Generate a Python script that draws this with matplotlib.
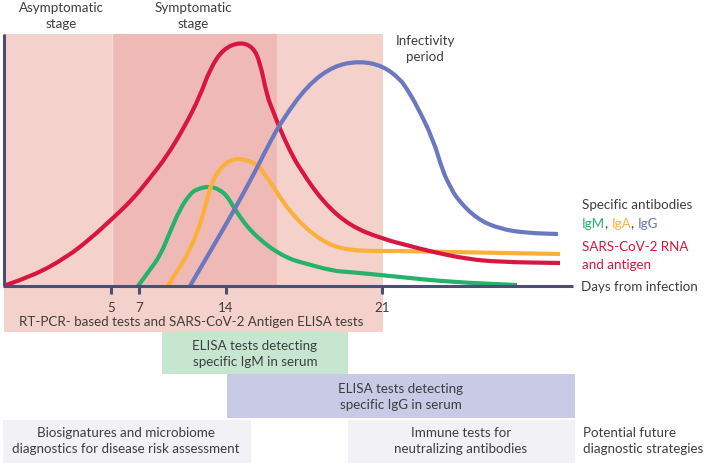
import matplotlib
matplotlib.use("Agg")
import matplotlib.pyplot as plt
from matplotlib.patches import Rectangle, PathPatch
from matplotlib.path import Path

plt.rcParams['font.family'] = ['Lato', 'DejaVu Sans']

# ---- data (schematic coordinates: x = position along time axis, py = pixel row of the curve) ----
red_x = [6, 33, 67, 90, 112, 133, 150, 167, 185, 200, 210, 223, 240, 253, 260, 267, 273, 280, 290, 300, 323, 350, 383, 410, 433, 467, 500, 560]
red_py = [286, 277, 258, 240, 220, 200, 179, 157, 127, 97, 70, 50, 43, 48, 63, 97, 112, 130, 152, 170, 203, 227, 240, 247, 253, 260, 263, 264]

blue_x = [190, 217, 237, 250, 260, 270, 283, 307, 333, 360, 383, 400, 407, 417, 433, 443, 450, 457, 477, 500, 527, 558]
blue_py = [287, 241, 206, 182, 163, 143, 120, 87, 67, 62, 67, 80, 90, 107, 140, 173, 187, 200, 220, 230, 234, 235]

orange_x = [168, 177, 187, 200, 207, 213, 223, 233, 243, 257, 263, 273, 283, 295, 307, 320, 333, 350, 370, 400, 450, 560]
orange_py = [287, 272, 257, 227, 200, 180, 166, 160, 160, 165, 173, 187, 203, 218, 230, 240, 247, 251, 252, 252, 253, 255]

green_x = [138, 149, 160, 170, 180, 190, 197, 210, 220, 227, 233, 240, 250, 263, 275, 290, 300, 333, 350, 400, 450, 517]
green_py = [287, 272, 257, 233, 210, 195, 190, 187, 191, 197, 207, 218, 231, 243, 252, 260, 263, 272, 273, 278, 283, 286]

tick_pos = [111, 139, 226, 382]
tick_labels = ["5", "7", "14", "21"]

AXIS_PY = 287
def lvl(py):
    return [AXIS_PY - v for v in py]

TXT = '#3d3d3d'
RED = '#d7173f'
BLUE = '#6b77bf'
ORANGE = '#fbb03b'
GREEN = '#26b26a'
AX = '#4b4f72'

fig = plt.figure(figsize=(7.09, 4.64), dpi=100)
ax = fig.add_axes([0, 0, 1, 1])
ax.set_xlim(0, 709)
ax.set_ylim(AXIS_PY - 464, AXIS_PY)
ax.axis('off')

def rect(x0, x1, py0, py1, color, z=0):
    ax.add_patch(Rectangle((x0, AXIS_PY - py1), x1 - x0, py1 - py0, facecolor=color, edgecolor='none', zorder=z))

# background stages
rect(4, 383, 35, 333, '#f4d1cb', 0)
rect(112, 277, 35, 287, '#efbab6', 1)
ax.plot([112, 112], [0, AXIS_PY - 35], color='#f6dcd8', lw=1, zorder=1.5)

# lower boxes
rect(162, 348, 333, 375, '#c6e6d0', 0)
rect(227, 575, 375, 419, '#c9cae6', 0)
rect(3, 251, 421, 464, '#f1f1f6', 0)
rect(348, 575, 421, 464, '#f1f1f6', 0)

def smooth_path(xs, ys):
    # quadratic Bezier through midpoints, with the read points as control points
    verts = [(xs[0], ys[0])]
    codes = [Path.MOVETO]
    for i in range(1, len(xs) - 1):
        verts.append((xs[i], ys[i]))
        verts.append(((xs[i] + xs[i + 1]) / 2, (ys[i] + ys[i + 1]) / 2))
        codes += [Path.CURVE3, Path.CURVE3]
    verts.append((xs[-1], ys[-1]))
    codes.append(Path.LINETO)
    return Path(verts, codes)

# curves
for xs, ys, c in [(green_x, green_py, GREEN), (orange_x, orange_py, ORANGE),
                  (red_x, red_py, RED), (blue_x, blue_py, BLUE)]:
    ax.add_patch(PathPatch(smooth_path(xs, lvl(ys)), facecolor='none', edgecolor=c, lw=3.0,
                           capstyle='butt', joinstyle='round', zorder=3))

# axes
ax.plot([4, 4], [0, AXIS_PY - 35], color=AX, lw=2.2, zorder=4, solid_capstyle='butt')
ax.plot([3, 573], [0, 0], color=AX, lw=2.2, zorder=4, solid_capstyle='butt')
fs = 9.6
for tp, tl in zip(tick_pos, tick_labels):
    ax.plot([tp, tp], [0, -8], color=AX, lw=2.2, zorder=4, solid_capstyle='butt')
    ax.text(tp, -21, tl, ha='center', va='center', fontsize=fs, color=TXT, zorder=5)

def T(x, py, s, ha='center', color=TXT):
    return ax.text(x, AXIS_PY - py, s, ha=ha, va='center', fontsize=fs, color=color, linespacing=1.35, zorder=5)

T(61, 16, "Asymptomatic\nstage")
T(193, 16, "Symptomatic\nstage")
T(425, 49, "Infectivity\nperiod")
T(582, 205, "Specific antibodies", ha='left')
T(582, 247, "SARS-CoV-2 RNA", ha='left', color=RED)
T(582, 265, "and antigen", ha='left', color=RED)
T(581, 287, "Days from infection", ha='left')
T(191, 322, "RT-PCR- based tests and SARS-CoV-2 Antigen ELISA tests")
T(255, 354, "ELISA tests detecting\nspecific IgM in serum")
T(401, 397, "ELISA tests detecting\nspecific IgG in serum")
T(126, 441, "Biosignatures and microbiome\ndiagnostics for disease risk assessment")
T(461, 441, "Immune tests for\nneutralizing antibodies")
T(583, 441, "Potential future\ndiagnostic strategies", ha='left')

# multicolour line
fig.canvas.draw()
r = fig.canvas.get_renderer()
x = 582
inv = ax.transData.inverted()
for s, c in [("IgM", GREEN), (", ", TXT), ("IgA", ORANGE), (", ", TXT), ("IgG", BLUE)]:
    t = T(x, 224, s, ha='left', color=c)
    bb = t.get_window_extent(renderer=r)
    x = inv.transform((bb.x1, bb.y0))[0]

fig.savefig("out.png", dpi=100)
